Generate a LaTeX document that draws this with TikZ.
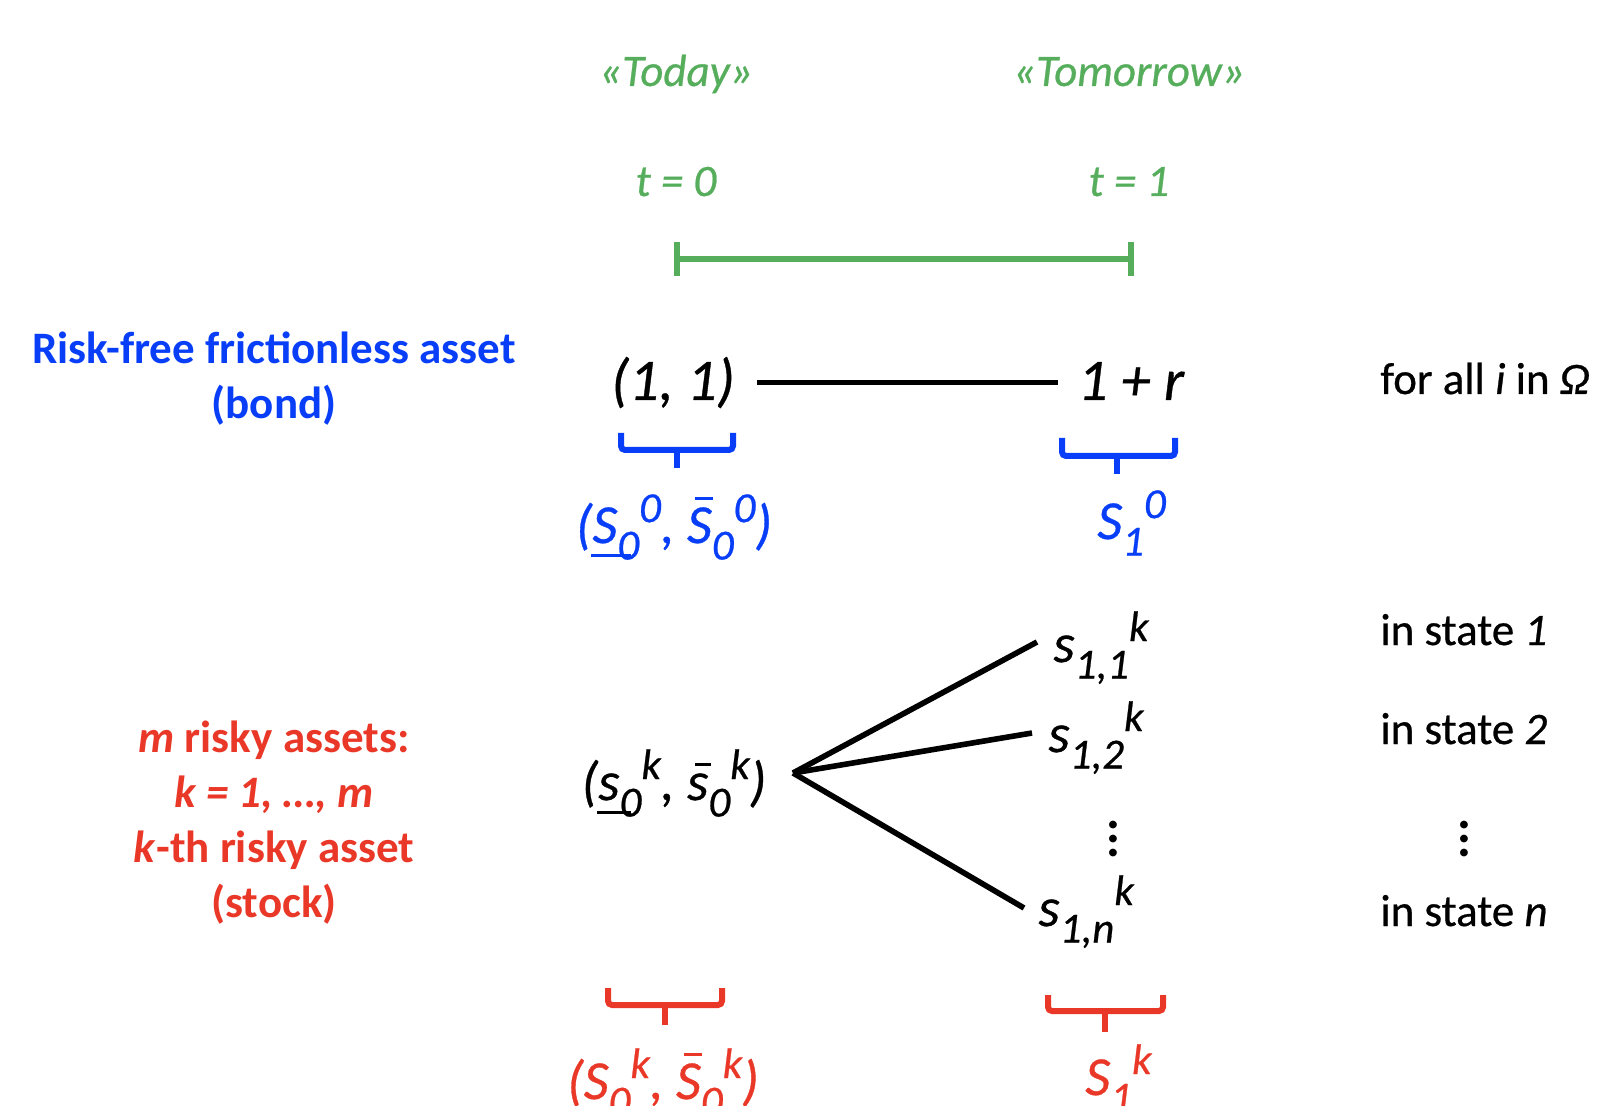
\documentclass[tikz,border=0pt]{standalone}
\usepackage{fontspec}
\setmainfont{Carlito}[UprightFeatures={FakeBold=0.6}, ItalicFeatures={FakeBold=0.6}]
\usepackage{graphicx}
\usetikzlibrary{arrows.meta}
\definecolor{tgreen}{RGB}{86,174,92}
\definecolor{tblue}{RGB}{8,62,248}
\definecolor{tred}{RGB}{234,56,40}
\newcommand\dn[1]{\raisebox{-0.3em}{\scalebox{0.78}{#1}}}
\newcommand\up[1]{\raisebox{0.38em}{\scalebox{0.78}{#1}}}
\newcommand\ulx[2][0.72em]{\makebox[0pt][l]{\kern-0.02em\rule[-0.26em]{#1}{0.06em}}#2}
\newcommand\ovx[3][0.34em]{\makebox[0pt][l]{\kern0.14em\rule[#2]{#1}{0.06em}}#3}
\newcommand\vdts{\vbox{\baselineskip7.2pt\lineskiplimit0pt\hbox{.}\hbox{.}\hbox{.}}}
\tikzset{
  lbl/.style={inner sep=0pt, font=\fontsize{22.5}{27.5}\selectfont},
  grn/.style={lbl, text=tgreen, font=\fontsize{22.5}{27.5}\selectfont\itshape},
  big/.style={inner sep=0pt, font=\fontsize{29.5}{34}\selectfont\itshape},
  mid/.style={inner sep=0pt, font=\fontsize{27.5}{32}\selectfont\itshape},
  brace/.style={line width=3pt, rounded corners=2pt},
  conn/.style={line width=2.8pt, black},
}
\begin{document}
\begin{tikzpicture}[x=0.5pt,y=-0.5pt]
\useasboundingbox (0,0) rectangle (1605,1106);
% time axis
\node[grn, anchor=base] (today) at (676,86) {«Today»};
\node[grn, anchor=base] (tomorrow) at (1129,86) {«Tomorrow»};
\node[grn, anchor=base] (t0) at (676,196) {t = 0};
\node[grn, anchor=base] (t1) at (1129,196) {t = 1};
\coordinate (T0) at (674,259);
\coordinate (T1) at (1134,259);
\draw[tgreen, line width=3pt, {Bar[width=17pt]}-{Bar[width=17pt]}] (T0) -- (T1);
% bond
\node[lbl, text=tblue, font=\fontsize{22.5}{27.5}\selectfont\bfseries, align=center] (bondlbl) at (274,379) {Risk-free frictionless asset\\(bond)};
\node[big, anchor=base] (b0) at (673,400) {(1, 1)};
\node[big, anchor=base] (b1) at (1131,400) {1 + r};
\draw[conn, shorten <=11pt, shorten >=10pt] (b0.east) -- (b0.east -| b1.west);
\node[lbl, anchor=base west] (forall) at (1380,394) {for all \textit{i} in \textit{Ω}};
\draw[tblue, brace] (621,433) |- (733,450) -- (733,433);
\draw[tblue, brace] (677,450) -- (677,468);
\draw[tblue, brace] (1062,438) |- (1175,456) -- (1175,438);
\draw[tblue, brace] (1117,456) -- (1117,474);
\node[mid, text=tblue, anchor=base] (bl) at (674,543) {(\ulx{S}\dn{0}\up{0}, \ovx{0.78em}{S}\dn{0}\up{0})};
\node[mid, text=tblue, anchor=base west] (br) at (1097,539) {S\dn{1}\up{0}};
% stock
\node[lbl, text=tred, font=\fontsize{22.5}{27.5}\selectfont\bfseries, align=center] (stocklbl) at (274,823) {\textit{m} risky assets:\\\textit{k = 1, …, m}\\\textit{k}-th risky asset\\(stock)};
\node[mid, anchor=base] (s0) at (674,800) {(\ulx[0.62em]{s}\dn{0}\up{k}, \ovx[0.3em]{0.62em}{s}\dn{0}\up{k})};
\coordinate (root) at (793,773);
\coordinate (e1) at (1037,642);
\coordinate (e2) at (1032,733);
\coordinate (en) at (1024,908);
\node[mid, anchor=base west] (s11) at (1053,662) {s\dn{1,1}\up{k}};
\node[mid, anchor=base west] (s12) at (1048,752) {s\dn{1,2}\up{k}};
\node[mid, font=\fontsize{26}{30}\selectfont\bfseries] (sdots) at (1113,839) {\vdts};
\node[mid, anchor=base west] (s1n) at (1038,926) {s\dn{1,n}\up{k}};
\draw[conn] (root) -- (e1);
\draw[conn] (root) -- (e2);
\draw[conn] (root) -- (en);
\node[lbl, anchor=base west] (st1) at (1380,645) {in state \textit{1}};
\node[lbl, anchor=base west] (st2) at (1380,744) {in state \textit{2}};
\node[lbl, font=\fontsize{26}{30}\selectfont\bfseries] (stdots) at (1464,839) {\vdts};
\node[lbl, anchor=base west] (stn) at (1380,926) {in state \textit{n}};
\draw[tred, brace] (608,988) |- (722,1005) -- (722,988);
\draw[tred, brace] (665,1005) -- (665,1025);
\draw[tred, brace] (1048,995) |- (1163,1011) -- (1163,995);
\draw[tred, brace] (1105,1011) -- (1105,1032);
\node[mid, text=tred, anchor=base] (sl) at (663,1099) {(\ulx{S}\dn{0}\up{k}, \ovx{0.78em}{S}\dn{0}\up{k})};
\node[mid, text=tred, anchor=base west] (sr) at (1085,1095) {S\dn{1}\up{k}};
\end{tikzpicture}
\end{document}
